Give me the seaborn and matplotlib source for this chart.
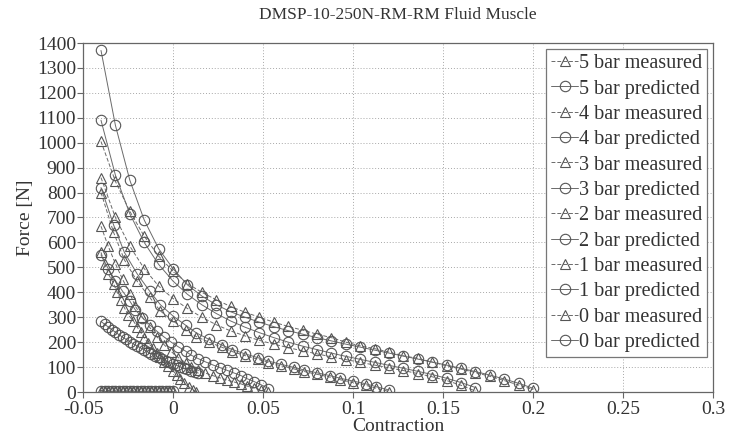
import numpy as np
import pandas as pd
import matplotlib
matplotlib.use("Agg")
import matplotlib.pyplot as plt
import seaborn as sns
from matplotlib.ticker import FuncFormatter, MultipleLocator

# ---------------- data ----------------
x5 = [-0.040, -0.032, -0.024, -0.016, -0.008, 0.000, 0.008, 0.016, 0.024, 0.032,
      0.040, 0.048, 0.056, 0.064, 0.072, 0.080, 0.088, 0.096, 0.104, 0.112,
      0.120, 0.128, 0.136, 0.144, 0.152, 0.160, 0.168, 0.176, 0.184, 0.192, 0.200]
meas5 = [1005, 845, 725, 625, 545, 485, 435, 400, 370, 343,
         320, 300, 280, 263, 248, 232, 218, 200, 185, 174,
         160, 145, 135, 120, 105, 92, 78, 63, 46, 28, 10]
pred5 = [1370, 1070, 850, 690, 575, 495, 430, 385, 350, 322,
         300, 280, 262, 246, 232, 218, 205, 192, 180, 168,
         156, 144, 132, 120, 108, 95, 82, 68, 52, 35, 15]

x4 = [-0.040, -0.032, -0.024, -0.016, -0.008, 0.000, 0.008, 0.016, 0.024, 0.032,
      0.040, 0.048, 0.056, 0.064, 0.072, 0.080, 0.088, 0.096, 0.104, 0.112,
      0.120, 0.128, 0.136, 0.144, 0.152, 0.160, 0.168]
meas4 = [860, 700, 585, 495, 425, 375, 335, 300, 270, 245,
         225, 207, 192, 178, 165, 153, 141, 130, 119, 108,
         97, 86, 74, 61, 46, 27, 4]
pred4 = [1090, 870, 715, 600, 512, 445, 392, 350, 315, 285,
         260, 238, 218, 200, 184, 170, 156, 143, 131, 119,
         107, 95, 83, 70, 55, 38, 18]

x3 = [-0.040, -0.033, -0.027, -0.020, -0.013, -0.007, 0.000, 0.007, 0.013, 0.020,
      0.027, 0.033, 0.040, 0.047, 0.053, 0.060, 0.067, 0.073, 0.080, 0.087,
      0.093, 0.100, 0.107, 0.113, 0.120]
meas3 = [800, 640, 530, 445, 380, 325, 285, 250, 222, 200,
         180, 162, 146, 132, 118, 105, 93, 82, 71, 60,
         49, 38, 27, 15, 2]
pred3 = [820, 670, 560, 475, 405, 350, 305, 268, 237, 211,
         189, 170, 153, 138, 124, 111, 99, 88, 77, 66,
         55, 44, 33, 21, 8]

x2 = [-0.040, -0.036, -0.032, -0.028, -0.024, -0.021, -0.017, -0.013, -0.009, -0.005,
      -0.001, 0.003, 0.007, 0.010, 0.014, 0.018, 0.022, 0.026, 0.030, 0.034,
      0.038, 0.041, 0.045, 0.049, 0.053]
meas2 = [665, 585, 515, 452, 395, 345, 300, 260, 222, 190,
         162, 138, 117, 100, 87, 76, 66, 57, 48, 40,
         32, 24, 16, 8, 0]
pred2 = [550, 495, 447, 404, 365, 330, 298, 270, 244, 221,
         200, 181, 164, 148, 134, 121, 109, 98, 87, 76,
         65, 54, 42, 29, 14]

x1m = [-0.040, -0.038, -0.036, -0.033, -0.031, -0.029, -0.027, -0.025, -0.022, -0.020,
       -0.018, -0.016, -0.014, -0.011, -0.009, -0.007, -0.005, -0.003, 0.000, 0.002,
       0.004, 0.006, 0.009, 0.011, 0.013]
meas1 = [560, 515, 475, 435, 400, 368, 338, 310, 285, 262,
         240, 218, 197, 177, 158, 140, 122, 104, 86, 68,
         51, 35, 20, 8, 0]
x1p = [-0.040, -0.038, -0.036, -0.034, -0.032, -0.030, -0.028, -0.026, -0.024, -0.022,
       -0.020, -0.018, -0.016, -0.014, -0.012, -0.010, -0.008, -0.006, -0.004, -0.002,
       0.000, 0.002, 0.004, 0.006, 0.008, 0.010, 0.012, 0.014]
pred1 = [283, 272, 261, 250, 240, 230, 220, 211, 202, 193,
         185, 177, 169, 161, 153, 146, 139, 132, 125, 119,
         113, 107, 101, 96, 91, 86, 81, 76]

x0 = [-0.040, -0.038, -0.036, -0.034, -0.032, -0.030, -0.028, -0.026, -0.024, -0.022,
      -0.020, -0.018, -0.016, -0.014, -0.012, -0.010, -0.008, -0.006, -0.004, -0.002, 0.000]
meas0 = [6, 6, 6, 5, 5, 5, 5, 5, 5, 5, 4, 4, 4, 4, 4, 4, 4, 3, 3, 3, 3]
pred0 = [4, 4, 4, 4, 4, 4, 4, 4, 4, 4, 4, 4, 4, 4, 4, 4, 4, 4, 4, 4, 4]

series = [
    ("5 bar measured", x5, meas5, "m"), ("5 bar predicted", x5, pred5, "p"),
    ("4 bar measured", x4, meas4, "m"), ("4 bar predicted", x4, pred4, "p"),
    ("3 bar measured", x3, meas3, "m"), ("3 bar predicted", x3, pred3, "p"),
    ("2 bar measured", x2, meas2, "m"), ("2 bar predicted", x2, pred2, "p"),
    ("1 bar measured", x1m, meas1, "m"), ("1 bar predicted", x1p, pred1, "p"),
    ("0 bar measured", x0, meas0, "m"), ("0 bar predicted", x0, pred0, "p"),
]

xticks = [-0.05, 0, 0.05, 0.1, 0.15, 0.2, 0.25, 0.3]

# ---------------- style ----------------
sns.set_style("white")
plt.rcParams['font.family'] = ['Liberation Serif', 'DejaVu Serif']

fig = plt.figure(figsize=(7.32, 4.36), dpi=100)
ax = fig.add_axes([83/732, 1 - 392/436, (713 - 83)/732, (392 - 43)/436])

line_col = "#6a6a6a"
for label, xs, ys, kind in series:
    df = pd.DataFrame({"x": xs, "y": ys})
    if kind == "m":
        sns.lineplot(data=df, x="x", y="y", ax=ax, sort=False, label=label,
                     color=line_col, linestyle=(0, (4, 2)), linewidth=0.7,
                     marker="^", markersize=7.5, markerfacecolor="none",
                     markeredgecolor="#555555", markeredgewidth=0.8)
    else:
        sns.lineplot(data=df, x="x", y="y", ax=ax, sort=False, label=label,
                     color=line_col, linestyle="-", linewidth=0.7,
                     marker="o", markersize=7.5, markerfacecolor="none",
                     markeredgecolor="#555555", markeredgewidth=0.8)

ax.set_xlim(-0.05, 0.3)
ax.set_ylim(0, 1400)
ax.set_xticks(xticks)
ax.yaxis.set_major_locator(MultipleLocator(100))
ax.xaxis.set_major_formatter(FuncFormatter(lambda v, p: "%g" % round(v, 4)))
ax.yaxis.set_major_formatter(FuncFormatter(lambda v, p: "%d" % v))
ax.grid(True, linestyle=(0, (1, 2)), color="#a8a8a8", linewidth=0.7)
for s in ax.spines.values():
    s.set_color("#666666")
    s.set_linewidth(0.9)
ax.tick_params(axis="both", direction="out", length=4, width=0.8, color="#666666",
               labelsize=14, labelcolor="#333333", left=True, bottom=True)
ax.tick_params(axis="y", pad=1)
ax.tick_params(axis="x", pad=2.5)

ax.set_xlabel("Contraction", fontsize=14, color="#333333", labelpad=0)
ax.set_ylabel("Force [N]", fontsize=14, color="#333333", labelpad=2)
ax.set_title("DMSP-10-250N-RM-RM Fluid Muscle", fontsize=12.5, color="#333333", pad=17)

leg = ax.legend(loc="upper right", fontsize=14.5, frameon=True, fancybox=False,
                edgecolor="#777777", framealpha=1, handlelength=1.3, handletextpad=0.05,
                labelspacing=0.31, borderpad=0.25, borderaxespad=0.3)
leg.get_frame().set_linewidth(0.9)
for t in leg.get_texts():
    t.set_color("#333333")

fig.savefig("out.png", dpi=100)
